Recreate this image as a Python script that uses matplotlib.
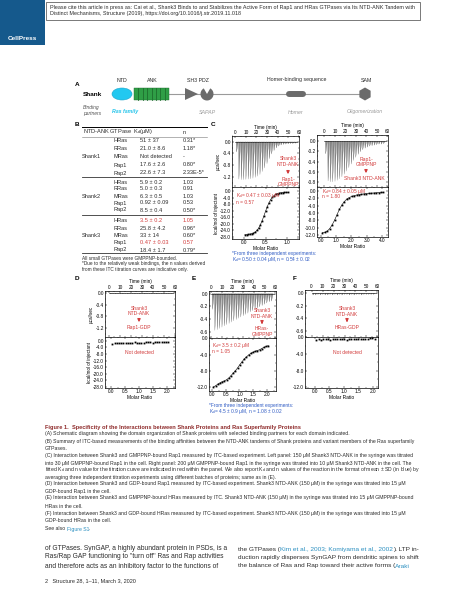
import matplotlib
matplotlib.use('Agg')
import matplotlib.pyplot as plt
from matplotlib.patches import Ellipse, Rectangle, Polygon, Wedge, RegularPolygon
from matplotlib.ticker import FormatStrFormatter, AutoMinorLocator

plt.rcParams['font.family'] = ['Liberation Sans', 'DejaVu Sans']
plt.rcParams['axes.unicode_minus'] = True

W, H = 461, 599
RED = '#D23C3C'
BLUE = '#2F5BC4'
DARK = '#2B2B2B'
GREY = '#6B6B6B'

# ---- table B ----
shank_names = ['Shank1', 'Shank2', 'Shank3']
gtpases = ['HRas', 'RRas', 'MRas', 'Rap1', 'Rap2']
kd_values = [['51 ± 37', '21.0 ± 8.6', 'Not detected', '17.6 ± 2.6', '22.6 ± 7.3'],
             ['5.9 ± 0.2', '5.0 ± 0.3', '6.3 ± 0.5', '0.92 ± 0.09', '8.5 ± 0.4'],
             ['3.5 ± 0.2', '25.8 ± 4.2', '33 ± 14', '0.47 ± 0.03', '18.4 ± 1.7']]
n_values = [['0.31*', '1.18*', '-', '0.80*', '2.33E-5*'],
            ['1.03', '0.91', '1.03', '0.53', '0.50*'],
            ['1.05', '0.96*', '0.60*', '0.57', '0.79*']]
highlight = [(2, 0), (2, 3)]

# ---- ITC data ----
inj_time = [1.0, 3.2, 5.4, 7.6, 9.8, 12.0, 14.2, 16.4, 18.6, 20.8, 23.0, 25.2, 27.4,
            29.6, 31.8, 34.0, 36.2, 38.4, 40.6, 42.8, 45.0, 47.2, 49.4, 51.6, 53.8, 56.0]

peaks_c1 = [-0.35, -1.28, -1.30, -1.30, -1.29, -1.28, -1.27, -1.25, -1.22, -1.18, -1.12, -1.02, -0.90,
            -0.75, -0.58, -0.42, -0.30, -0.21, -0.15, -0.11, -0.09, -0.08, -0.07, -0.06, -0.06, -0.05]
ratio_c1 = [0.02, 0.06, 0.10, 0.14, 0.18, 0.22, 0.26, 0.30, 0.34, 0.38, 0.42, 0.46, 0.50,
            0.54, 0.58, 0.62, 0.66, 0.70, 0.74, 0.78, 0.82, 0.86, 0.90, 0.94, 0.98, 1.02]
heat_c1 = [-26.6, -26.5, -26.4, -26.2, -26.0, -25.6, -25.0, -24.0, -22.6, -20.6, -18.2, -15.4, -12.4,
           -9.6, -7.2, -5.2, -3.8, -2.8, -2.0, -1.6, -1.3, -1.1, -1.0, -0.9, -0.8, -0.8]

peaks_c2 = [-0.25, -0.78, -0.80, -0.80, -0.79, -0.77, -0.74, -0.70, -0.65, -0.59, -0.52, -0.45, -0.38,
            -0.32, -0.26, -0.21, -0.17, -0.14, -0.12, -0.10, -0.09, -0.08, -0.07, -0.06, -0.06, -0.05]
ratio_c2 = [0.10, 0.26, 0.42, 0.58, 0.74, 0.90, 1.06, 1.22, 1.38, 1.54, 1.70, 1.86, 2.02,
            2.18, 2.34, 2.50, 2.66, 2.82, 2.98, 3.14, 3.30, 3.46, 3.62, 3.78, 3.94, 4.10]
heat_c2 = [-11.4, -11.3, -11.0, -10.3, -9.3, -8.0, -6.5, -5.0, -3.8, -2.9, -2.2, -1.8, -1.5,
           -1.3, -1.1, -1.0, -0.9, -0.8, -0.7, -0.65, -0.6, -0.55, -0.5, -0.45, -0.4, -0.35]

ratio_2x = [0.05, 0.13, 0.21, 0.29, 0.37, 0.45, 0.53, 0.61, 0.69, 0.77, 0.85, 0.93, 1.01,
            1.09, 1.17, 1.25, 1.33, 1.41, 1.49, 1.57, 1.65, 1.73, 1.81, 1.89, 1.97, 2.05]

peaks_d = [-0.03, -0.02, -0.03, -0.02, -0.03, -0.03, -0.02, -0.03, -0.02, -0.02, -0.03, -0.02, -0.03,
           -0.02, -0.03, -0.02, -0.02, -0.03, -0.02, -0.03, -0.02, -0.02, -0.03, -0.02, -0.02, -0.02]
heat_d = [-2.0, -1.5, -1.3, -1.2, -1.1, -1.0, -1.2, -1.3, -1.1, -1.0, -0.9, -1.0, -1.2,
          -1.4, -1.0, -0.9, -0.8, -0.9, -1.0, -0.8, -0.9, -0.7, -0.8, -0.6, -0.7, -0.6]

peaks_e = [-0.25, -0.58, -0.57, -0.55, -0.53, -0.51, -0.49, -0.47, -0.45, -0.43, -0.41, -0.39, -0.37,
           -0.35, -0.33, -0.31, -0.29, -0.27, -0.25, -0.23, -0.21, -0.19, -0.17, -0.15, -0.13, -0.12]
heat_e = [-12.0, -11.7, -11.3, -11.0, -10.7, -10.5, -10.2, -9.8, -9.2, -8.6, -8.0, -7.3, -6.5,
          -5.8, -5.1, -4.6, -4.1, -3.7, -3.4, -3.2, -3.0, -2.8, -2.5, -2.2, -2.0, -1.8]

peaks_f = [-0.03, -0.03, -0.02, -0.03, -0.02, -0.03, -0.03, -0.02, -0.03, -0.02, -0.03, -0.02, -0.03,
           -0.02, -0.02, -0.03, -0.02, -0.03, -0.02, -0.02, -0.03, -0.02, -0.02, -0.02, -0.02, -0.02]
heat_f = [-0.6, -0.55, -0.6, -0.5, -0.55, -0.5, -0.6, -0.45, -0.5, -0.55, -0.4, -0.5, -0.45,
          -0.6, -0.35, -0.4, -0.5, -0.4, -0.45, -0.35, -0.4, -0.5, -0.35, -0.3, -0.1, -0.4]

time_ticks = [0, 10, 20, 30, 40, 50, 60]


def rect(x0, y0, x1, y1):
    return [x0 / W, 1 - y1 / H, (x1 - x0) / W, (y1 - y0) / H]


fig = plt.figure(figsize=(W / 100, H / 100), dpi=100)
page = fig.add_axes([0, 0, 1, 1])
page.set_xlim(0, W)
page.set_ylim(H, 0)
page.axis('off')
page.set_zorder(10)
page.patch.set_alpha(0)


def txt(x, y, s, size=3.6, color=DARK, ha='left', **kw):
    return page.text(x, y, s, fontsize=size, color=color, ha=ha, va='center', **kw)


def runs(x, y, parts, size=3.6):
    r = fig.canvas.get_renderer()
    for s, c in parts:
        t = txt(x, y, s, size, c)
        x += t.get_window_extent(renderer=r).width


def style(ax):
    for sp in ax.spines.values():
        sp.set_linewidth(0.5)
    ax.tick_params(labelsize=3.4, length=1.6, width=0.35, pad=0.8, direction='in',
                   top=True, right=True, colors='k')
    ax.tick_params(which='minor', length=0.9, width=0.3, direction='in', top=True, right=True)
    ax.yaxis.set_major_formatter(FormatStrFormatter('%.1f'))
    ax.yaxis.set_minor_locator(AutoMinorLocator(2))


def itc(box, time, peaks, ratio, heat, tlim, rlim, ylt, ylb, yt_top, yt_bot, xt, fit=True, ylabels=False):
    left, right, top, mid, bottom = box
    at = fig.add_axes(rect(left, top, right, mid))
    ab = fig.add_axes(rect(left, mid, right, bottom))
    at.plot([time[0] - 1, time[-1] + 2.5], [0, 0], color='k', lw=0.4)
    for t, p in zip(time, peaks):
        at.fill([t, t + 0.3, t + 1.8], [0, p, 0], color='0.55', lw=0)
        at.plot([t, t + 0.3, t + 1.8], [0, p, 0], color='0.25', lw=0.15)
    at.set_xlim(*tlim)
    at.set_ylim(*ylt)
    at.set_yticks(yt_top)
    at.set_xticks(time_ticks)
    at.xaxis.set_minor_locator(AutoMinorLocator(2))
    style(at)
    at.tick_params(labeltop=True, labelbottom=False)
    at.xaxis.set_label_position('top')
    at.set_xlabel('Time (min)', fontsize=3.4, labelpad=1)
    ab.plot(ratio, heat, 's', ms=1.3, color='k', mec='k', mew=0)
    if fit:
        ab.plot(ratio, heat, '-', lw=0.4, color='k')
    ab.set_xlim(*rlim)
    ab.set_ylim(*ylb)
    ab.set_yticks(yt_bot)
    ab.set_xticks(xt)
    ab.xaxis.set_major_formatter(FormatStrFormatter('%.1f'))
    ab.xaxis.set_minor_locator(AutoMinorLocator(2))
    style(ab)
    ab.set_xlabel('Molar Ratio', fontsize=3.5, labelpad=0.3)
    if ylabels:
        at.set_ylabel('μcal/sec', fontsize=3.3, labelpad=1)
        ab.set_ylabel('kcal/mol of injectant', fontsize=3.3, labelpad=1)
    return at, ab


# ---- header ----
page.add_patch(Rectangle((0, 0), 45, 45, color='#15598C', lw=0))
page.text(22, 38, 'CellPress', fontsize=4.6, color='white', weight='bold', ha='center', va='center')
page.add_patch(Rectangle((46, 1.5), 374, 18.5, fc='white', ec='#444444', lw=0.5))
txt(50, 7, 'Please cite this article in press as: Cai et al., Shank3 Binds to and Stabilizes the Active Form of Rap1 and HRas GTPases via Its NTD-ANK Tandem with', 3.85)
txt(50, 14, 'Distinct Mechanisms, Structure (2019), https://doi.org/10.1016/j.str.2019.11.018', 3.85)

# ---- panel A ----
txt(75, 84, 'A', 4.6, 'k', weight='bold')
txt(83, 94, 'Shank', 4.6, 'k', weight='bold')
page.plot([169, 363], [94, 94], color='#9A9A9A', lw=0.8, zorder=1)
page.add_patch(Ellipse((122, 94), 20, 12, fc='#22C8F0', ec='#1BA5CC', lw=0.4, zorder=2))
page.add_patch(Rectangle((134, 88), 35, 12, fc='#2F9E46', ec='#1E6E2E', lw=0.3, zorder=2))
for k in range(1, 8):
    page.plot([134 + k * 35 / 8] * 2, [88, 100], color='#1E6E2E', lw=0.6, zorder=3)
page.add_patch(Polygon([(185, 88), (185, 100), (198, 94)], fc=GREY, ec='none', zorder=2))
page.add_patch(Wedge((207, 94), 6.5, -60, 240, fc=GREY, ec='none', zorder=2))
page.plot([289, 303], [94, 94], color=GREY, lw=4.3, solid_capstyle='round', zorder=2)
page.add_patch(RegularPolygon((365, 94), 6, radius=6.5, fc=GREY, ec='none', zorder=2))
txt(122, 80, 'NTD', 3.8, ha='center')
txt(152, 80, 'ANK', 3.8, ha='center')
txt(198, 80, 'SH3 PDZ', 3.8, ha='center')
txt(297, 80, 'Homer-binding sequence', 3.8, ha='center')
txt(366, 81, 'SAM', 3.8, ha='center')
txt(83, 108, 'Binding', 3.6, '#555555', style='italic')
txt(83, 113.5, 'partners', 3.6, '#555555', style='italic')
txt(112, 112, 'Ras family', 3.8, '#25C4EA', style='italic', weight='bold')
txt(207, 112, 'SAPAP', 3.8, '#9A9A9A', ha='center', style='italic')
txt(296, 112, 'Homer', 3.8, '#9A9A9A', ha='center', style='italic')
txt(365, 112, 'Oligomerization', 3.8, '#9A9A9A', ha='center', style='italic')

# ---- panel B table ----
txt(75, 125, 'B', 4.6, 'k', weight='bold')
page.plot([82, 207], [127, 127], color='k', lw=0.7)
txt(83, 132, 'NTD-ANK GTPase  K$_\\mathregular{d}$(μM)', 4.1)
txt(183, 132, 'n', 4.1)
page.plot([82, 207], [137, 137], color='#777777', lw=0.4)
group_start = [141, 182, 221]
group_step = [8.0, 7.0, 7.25]
group_line = [177, 215, 253]
for g, name in enumerate(shank_names):
    ys = [group_start[g] + r * group_step[g] for r in range(len(gtpases))]
    txt(82, (ys[0] + ys[-1]) / 2, name, 4.1)
    for r, gt in enumerate(gtpases):
        col = RED if (g, r) in highlight else DARK
        txt(113, ys[r], gt, 4.1)
        txt(140, ys[r], kd_values[g][r], 4.1, col)
        txt(183, ys[r], n_values[g][r], 4.1, col)
    page.plot([82, 207], [group_line[g]] * 2, color='#333333', lw=0.6)
txt(82, 258, 'All small GTPases were GMPPNP-bounded.', 3.4)
txt(82, 264, '*Due to the relatively weak bindings, the n values derived', 3.4)
txt(82, 270, 'from these ITC titration curves are indicative only.', 3.4)

# ---- panel C ----
txt(211, 125, 'C', 4.6, 'k', weight='bold')
itc((232, 299, 136, 187, 239), inj_time, peaks_c1, ratio_c1, heat_c1, (-3, 59.5), (-0.28, 1.28),
    (-1.55, 0.2), (-29.2, 2.4), [0.0, -0.4, -0.8, -1.2], list(range(0, -29, -4)), [0.0, 0.5, 1.0], ylabels=True)
itc((317, 388, 135, 187, 237), inj_time, peaks_c2, ratio_c2, heat_c2, (-7, 60.5), (-0.25, 4.4),
    (-0.9, 0.12), (-12.6, 1.1), [0.0, -0.2, -0.4, -0.6, -0.8], list(range(0, -13, -2)), [0.0, 1.0, 2.0, 3.0, 4.0])
txt(288, 159, 'Shank3', 3.6, RED, ha='center')
txt(288, 164.5, 'NTD-ANK', 3.6, RED, ha='center')
page.annotate('', xy=(288, 177), xytext=(288, 168),
              arrowprops=dict(arrowstyle='-|>', color=RED, lw=0.9, mutation_scale=4))
txt(288, 179.5, 'Rap1-', 3.6, RED, ha='center')
txt(288, 185, 'GMPPNP', 3.6, RED, ha='center')
txt(236, 196, 'K$_\\mathregular{d}$= 0.47 ± 0.03 μM', 3.5, RED)
txt(236, 202, 'n = 0.57', 3.5, RED)
txt(232, 254, '*From three independent experiments:', 3.5, BLUE)
txt(232, 260, 'K$_\\mathregular{d}$= 0.50 ± 0.04 μM, n = 0.54 ± 0.02', 3.5, BLUE)
txt(366, 159, 'Rap1-', 3.6, RED, ha='center')
txt(366, 164.5, 'GMPPNP', 3.6, RED, ha='center')
page.annotate('', xy=(366, 176), xytext=(366, 167),
              arrowprops=dict(arrowstyle='-|>', color=RED, lw=0.9, mutation_scale=4))
txt(364, 178.5, 'Shank3 NTD-ANK', 3.6, RED, ha='center')
txt(322, 191, 'K$_\\mathregular{d}$= 0.84 ± 0.05 μM', 3.5, RED)
txt(322, 197, 'n = 1.80', 3.5, RED)

# ---- panel D ----
txt(75, 279, 'D', 4.6, 'k', weight='bold')
itc((105, 175, 291, 337, 388), inj_time, peaks_d, ratio_2x, heat_d, (-3.6, 60), (-0.21, 2.29),
    (-1.51, 0.07), (-28.7, 2.4), [0.0, -0.4, -0.8, -1.2], list(range(0, -29, -4)),
    [0.0, 0.5, 1.0, 1.5, 2.0], fit=False, ylabels=True)
txt(139, 308, 'Shank3', 3.6, RED, ha='center')
txt(139, 313.5, 'NTD-ANK', 3.6, RED, ha='center')
page.annotate('', xy=(139, 325), xytext=(139, 316),
              arrowprops=dict(arrowstyle='-|>', color=RED, lw=0.9, mutation_scale=4))
txt(139, 328, 'Rap1-GDP', 3.6, RED, ha='center')
txt(139, 352, 'Not detected', 3.6, RED, ha='center')

# ---- panel E ----
txt(192, 279, 'E', 4.6, 'k', weight='bold')
itc((209, 276, 291, 338, 391), inj_time, peaks_e, ratio_2x, heat_e, (-2, 60.5), (-0.11, 2.33),
    (-0.7, 0.04), (-13.0, 0.1), [0.0, -0.2, -0.4, -0.6], [0.0, -4.0, -8.0, -12.0],
    [0.0, 0.5, 1.0, 1.5, 2.0])
txt(262, 311, 'Shank3', 3.6, RED, ha='center')
txt(262, 316, 'NTD-ANK', 3.6, RED, ha='center')
page.annotate('', xy=(262, 327), xytext=(262, 319),
              arrowprops=dict(arrowstyle='-|>', color=RED, lw=0.9, mutation_scale=4))
txt(262, 329, 'HRas-', 3.6, RED, ha='center')
txt(262, 334, 'GMPPNP', 3.6, RED, ha='center')
txt(212, 346, 'K$_\\mathregular{d}$= 3.5 ± 0.2 μM', 3.5, RED)
txt(212, 351.5, 'n = 1.05', 3.5, RED)
txt(209, 406, '*From three independent experiments:', 3.5, BLUE)
txt(209, 412, 'K$_\\mathregular{d}$= 4.5 ± 0.9 μM, n = 1.08 ± 0.02', 3.5, BLUE)

# ---- panel F ----
txt(293, 279, 'F', 4.6, 'k', weight='bold')
itc((305, 378, 290, 337, 388), inj_time, peaks_f, ratio_2x, heat_f, (-6, 60.5), (-0.34, 2.17),
    (-0.7, 0.05), (-12.2, 0.05), [0.0, -0.2, -0.4, -0.6], [0.0, -4.0, -8.0, -12.0],
    [0.0, 0.5, 1.0, 1.5, 2.0], fit=False)
txt(347, 309, 'Shank3', 3.6, RED, ha='center')
txt(347, 314, 'NTD-ANK', 3.6, RED, ha='center')
page.annotate('', xy=(347, 325), xytext=(347, 317),
              arrowprops=dict(arrowstyle='-|>', color=RED, lw=0.9, mutation_scale=4))
txt(347, 327.5, 'HRas-GDP', 3.6, RED, ha='center')
txt(347, 352, 'Not detected', 3.6, RED, ha='center')

# ---- caption ----
CAP = 3.67
txt(45, 427, 'Figure 1.  Specificity of the Interactions between Shank Proteins and Ras Superfamily Proteins',
    4.1, '#8E2A2A', weight='bold')
caption = [
    (434, '(A) Schematic diagram showing the domain organization of Shank proteins with selected binding partners for each domain indicated.'),
    (441, '(B) Summary of ITC-based measurements of the binding affinities between the NTD-ANK tandems of Shank proteins and variant members of the Ras superfamily'),
    (448, 'GTPases.'),
    (456, '(C) Interaction between Shank3 and GMPPNP-bound Rap1 measured by ITC-based experiment. Left panel: 150 μM Shank3 NTD-ANK in the syringe was titrated'),
    (463, 'into 30 μM GMPPNP-bound Rap1 in the cell. Right panel: 200 μM GMPPNP-bound Rap1 in the syringe was titrated into 10 μM Shank3 NTD-ANK in the cell. The'),
    (470, 'fitted K$_\\mathregular{d}$ and n value for the titration curve are indicated in red within the panel. We also report K$_\\mathregular{d}$ and n values of the reaction in the format of mean ± SD (in blue) by'),
    (477, 'averaging three independent titration experiments using different batches of proteins; same as in (E).'),
    (484, '(D) Interaction between Shank3 and GDP-bound Rap1 measured by ITC-based experiment. Shank3 NTD-ANK (150 μM) in the syringe was titrated into 15 μM'),
    (491, 'GDP-bound Rap1 in the cell.'),
    (498, '(E) Interaction between Shank3 and GMPPNP-bound HRas measured by ITC. Shank3 NTD-ANK (150 μM) in the syringe was titrated into 15 μM GMPPNP-bound'),
    (506, 'HRas in the cell.'),
    (514, '(F) Interaction between Shank3 and GDP-bound HRas measured by ITC-based experiment. Shank3 NTD-ANK (150 μM) in the syringe was titrated into 15 μM'),
    (521, 'GDP-bound HRas in the cell.'),
]
for y, s in caption:
    txt(45, y, s, CAP)
runs(45, 529, [('See also ', DARK), ('Figure S1', '#2A8FC0'), ('.', DARK)], CAP)

# ---- body text ----
BODY = 4.75
CITE = '#2A8FC0'
txt(45, 549, 'of GTPases. SynGAP, a highly abundant protein in PSDs, is a', BODY)
txt(45, 557, 'Ras/Rap GAP functioning to "turn off" Ras and Rap activities', BODY)
txt(45, 566, 'and therefore acts as an inhibitory factor to the functions of', BODY)
runs(238, 549, [('the GTPases (', DARK), ('Kim et al., 2003; Komiyama et al., 2002', CITE), ('). LTP in-', DARK)], 4.65)
txt(238, 557, 'duction rapidly disperses SynGAP from dendritic spines to shift', 4.65)
runs(238, 566, [('the balance of Ras and Rap toward their active forms (', DARK), ('Araki', CITE)], 4.65)
txt(45, 581, '2   Structure 28, 1–11, March 3, 2020', 4.0)

fig.savefig('out.png', dpi=100)
